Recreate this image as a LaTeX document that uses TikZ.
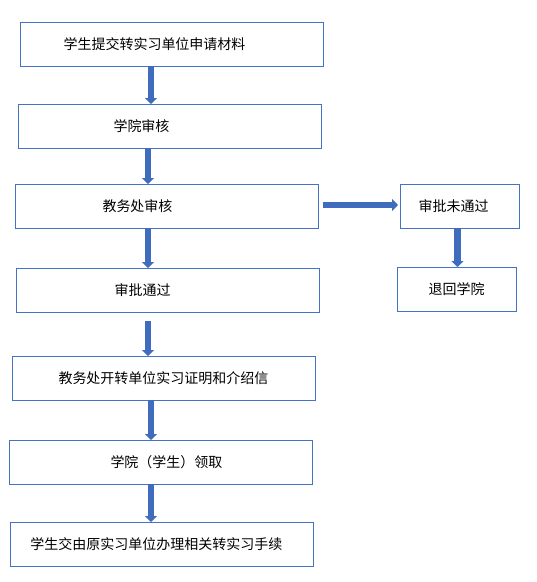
\documentclass[tikz,border=0pt]{standalone}
\usepackage{fontspec}
\newfontfamily\cjk{Noto Sans CJK SC}
\usetikzlibrary{positioning}
\usetikzlibrary{arrows.meta}
\definecolor{boxblue}{RGB}{68,114,196}
\definecolor{arrowblue}{RGB}{64,108,190}

\begin{document}
\begin{tikzpicture}[x=1pt, y=1pt,
			process/.style={draw=boxblue, line width=1pt, rectangle, minimum width=303pt, minimum height=44pt, inner sep=0pt, outer sep=0pt, font=\fontsize{14pt}{16pt}\selectfont\cjk},
			result/.style={process, minimum width=119pt},
			arrow/.style={-{Triangle[width=12pt,length=6pt]}, line width=6.5pt, draw=arrowblue},
			shiftl/.style={execute at end node={\hspace*{#1}}},
			shiftr/.style={execute at begin node={\hspace*{#1}}}
			]
			\useasboundingbox (0,0) rectangle (537,-582);
			% Main flow
			\node[process, shiftl=34pt] (submit) at (171.5,-44) {学生提交转实习单位申请材料};
			\node[process, shiftl=56pt, below=38pt of submit, xshift=-2pt] (college) {学院审核};
			\node[process, shiftl=58pt, below=36pt of college, xshift=-3pt] (audit) {教务处审核};
			\node[process, shiftl=50pt, below=40pt of audit, xshift=1pt] (approved) {审批通过};
			\node[process, below=44pt of approved, xshift=-4pt] (letter) {教务处开转单位实习证明和介绍信};
			\node[process, shiftr=12pt, below=40pt of letter, xshift=-3pt] (collect) {学院（学生）领取};
			\node[process, shiftl=10pt, below=38pt of collect, xshift=1pt] (handover) {学生交由原实习单位办理相关转实习手续};
			
			% Rejected branch
			\node[result, shiftl=12pt, right=82pt of audit] (rejected) {审批未通过};
			\node[result, below=39pt of rejected, xshift=-3pt] (returned) {退回学院};
			
			% Arrows
			\draw[arrow] ([xshift=-20.5pt]submit.south) -- ([xshift=-20.5pt]submit.south |- college.north);
			\draw[arrow] ([xshift=-21.5pt]college.south) -- ([xshift=-21.5pt]college.south |- audit.north);
			\draw[arrow] ([xshift=-18.5pt]audit.south) -- ([xshift=-18.5pt]audit.south |- approved.north);
			\draw[arrow, shorten <=9pt] ([xshift=-19.5pt]approved.south) -- ([xshift=-19.5pt]approved.south |- letter.north);
			\draw[arrow] ([xshift=-12.5pt]letter.south) -- ([xshift=-12.5pt]letter.south |- collect.north);
			\draw[arrow] ([xshift=-9.5pt]collect.south) -- ([xshift=-9.5pt]collect.south |- handover.north);
			\draw[arrow, shorten <=5pt, shorten >=2pt] ([yshift=1pt]audit.east) -- ([yshift=1pt]rejected.west);
			\draw[arrow] ([xshift=-2pt]rejected.south) -- ([xshift=-2pt]rejected.south |- returned.north);
		\end{tikzpicture}
\end{document}
